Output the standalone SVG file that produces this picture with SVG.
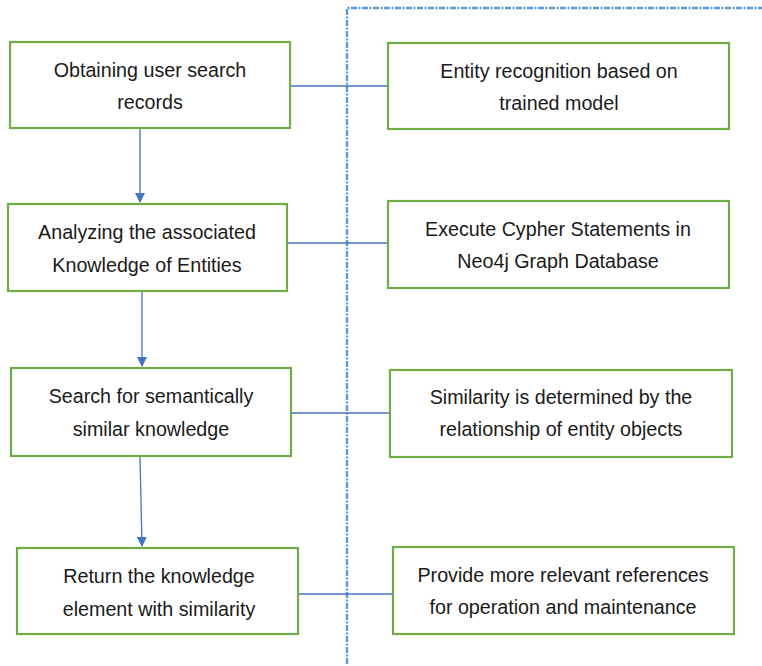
<svg xmlns="http://www.w3.org/2000/svg" width="762" height="666" viewBox="0 0 762 666">
<style>
.box{fill:#fff;stroke:#70AD47;stroke-width:2.2}
.t{font-family:"Liberation Sans",Arial,sans-serif;font-size:19.7px;fill:#1a1a1a;text-anchor:middle}
.c{stroke:#4472C4;stroke-width:1.3;fill:none}
.sep{stroke:#5B9BD5;stroke-width:2.4;fill:none;stroke-dasharray:6 1.5 2 1.5}
</style>
<defs>
<marker id="ah" markerWidth="10" markerHeight="10" refX="9" refY="5" orient="auto" markerUnits="userSpaceOnUse">
<path d="M0,0 L10,5 L0,10 z" fill="#4472C4"/>
</marker>
</defs>
<path class="sep" d="M347,664 L347,8 L762,8"/>
<g id="connectors">
<line class="c" x1="290" y1="86" x2="387" y2="86"/>
<line class="c" x1="287" y1="243" x2="387" y2="243"/>
<line class="c" x1="291" y1="413" x2="389" y2="413"/>
<line class="c" x1="298" y1="594" x2="392" y2="594"/>
<line class="c" x1="140" y1="129" x2="140" y2="202" marker-end="url(#ah)"/>
<line class="c" x1="142" y1="292" x2="142" y2="366" marker-end="url(#ah)"/>
<line class="c" x1="140" y1="457" x2="142" y2="546" marker-end="url(#ah)"/>
</g>
<g id="n1"><rect class="box" x="10" y="42" width="280" height="86"/><text class="t" x="150" y="77">Obtaining user search</text><text class="t" x="150" y="109">records</text></g>
<g id="n2"><rect class="box" x="8" y="204" width="279" height="87"/><text class="t" x="147" y="239">Analyzing the associated</text><text class="t" x="147" y="272">Knowledge of Entities</text></g>
<g id="n3"><rect class="box" x="11" y="368" width="280" height="88"/><text class="t" x="151" y="403">Search for semantically</text><text class="t" x="151" y="436">similar knowledge</text></g>
<g id="n4"><rect class="box" x="17" y="548" width="281" height="86"/><text class="t" x="159" y="583">Return the knowledge</text><text class="t" x="159" y="616">element with similarity</text></g>
<g id="r1"><rect class="box" x="388" y="43" width="341" height="86"/><text class="t" x="559" y="78">Entity recognition based on</text><text class="t" x="559" y="110">trained model</text></g>
<g id="r2"><rect class="box" x="388" y="201" width="341" height="87"/><text class="t" x="558" y="236">Execute Cypher Statements in</text><text class="t" x="558" y="268">Neo4j Graph Database</text></g>
<g id="r3"><rect class="box" x="390" y="370" width="342" height="87"/><text class="t" x="561" y="404">Similarity is determined by the</text><text class="t" x="561" y="436">relationship of entity objects</text></g>
<g id="r4"><rect class="box" x="393" y="547" width="341" height="87"/><text class="t" x="563" y="582">Provide more relevant references</text><text class="t" x="563" y="614">for operation and maintenance</text></g>
</svg>
